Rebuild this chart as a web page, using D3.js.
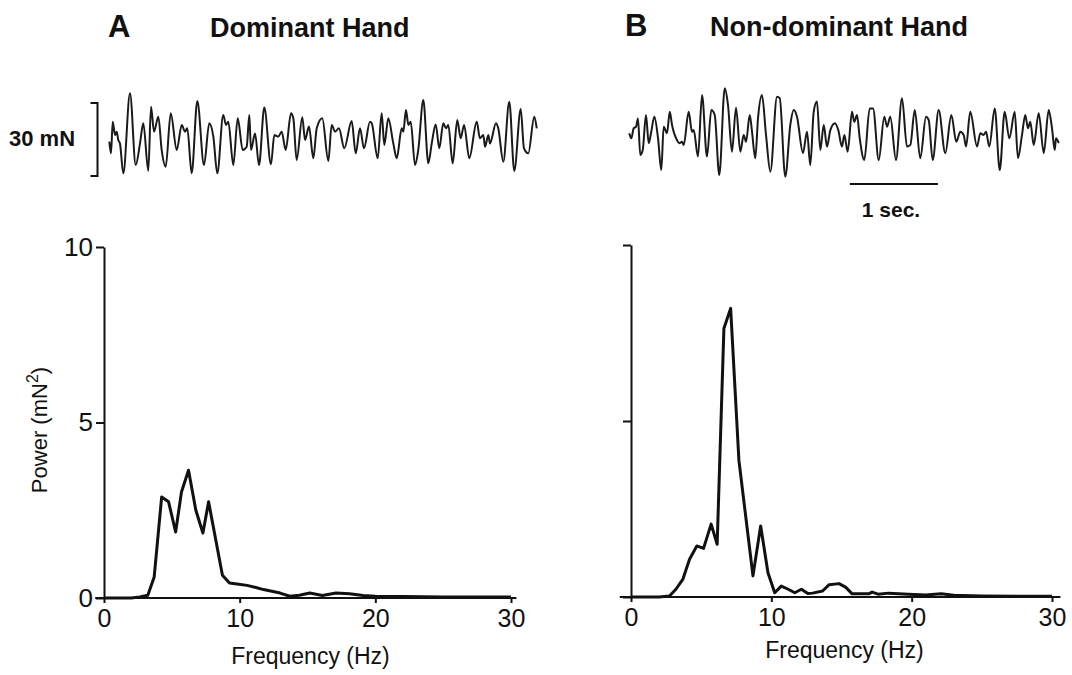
<!DOCTYPE html>
<html>
<head>
<meta charset="utf-8">
<script src="https://cdn.jsdelivr.net/npm/d3@7"></script>
<style>
  body { margin: 0; background: #fff; }
  text { font-family: "Liberation Sans", Arial, Helvetica, sans-serif; fill: #111; }
</style>
</head>
<body>
<svg width="1072" height="675"></svg>
<script>
// force traces: [time (s), force (mN)]
const traceA = [[0.049,-0.9],[0.068,-5.7],[0.088,7.3],[0.114,1.8],[0.133,3.2],[0.151,-0.2],[0.170,-1.6],[0.208,-13.9],
  [0.284,19.0],[0.349,-10.5],[0.398,-1.6],[0.435,6.7],[0.492,-12.9],[0.523,13.5],[0.557,3.2],[0.606,9.4],[0.644,-4.3],
  [0.690,-11.2],[0.747,10.8],[0.815,-4.3],[0.872,6.0],[0.909,3.2],[0.935,4.6],[0.985,-13.9],[1.049,15.8],[1.125,-10.5],
  [1.185,6.7],[1.231,1.2],[1.276,-13.9],[1.344,10.1],[1.375,6.0],[1.401,7.3],[1.458,-10.5],[1.508,8.7],[1.565,-4.3],
  [1.610,-3.0],[1.640,10.1],[1.659,-4.3],[1.705,2.5],[1.750,-10.5],[1.810,13.1],[1.886,-10.2],[1.924,1.8],[1.969,1.2],
  [2.008,3.2],[2.053,-4.3],[2.114,10.8],[2.140,8.7],[2.178,-8.4],[2.242,9.1],[2.273,-0.2],[2.318,5.3],[2.367,-7.7],
  [2.406,4.6],[2.469,8.7],[2.538,-8.8],[2.576,6.0],[2.614,3.2],[2.659,4.6],[2.719,-3.6],[2.803,7.6],[2.849,-5.7],
  [2.898,4.6],[2.943,-3.6],[3.011,7.3],[3.031,6.7],[3.099,-7.7],[3.144,10.8],[3.174,-2.3],[3.219,8.7],[3.276,-1.6],
  [3.315,-7.7],[3.372,4.6],[3.390,3.2],[3.420,12.1],[3.447,6.0],[3.474,7.3],[3.523,-10.5],[3.560,-4.3],[3.617,16.2],
  [3.674,-9.8],[3.713,-1.6],[3.758,6.2],[3.799,-3.6],[3.844,6.7],[3.875,4.6],[3.901,6.0],[3.951,-9.8],[4.003,8.0],
  [4.042,0.5],[4.080,6.0],[4.140,-7.7],[4.224,7.3],[4.261,0.5],[4.299,1.8],[4.318,-3.0],[4.356,1.8],[4.375,-1.6],
  [4.443,6.7],[4.469,4.6],[4.526,-9.1],[4.594,15.5],[4.651,-12.9],[4.724,12.5],[4.761,-3.6],[4.810,-5.7],[4.878,9.4],
  [4.906,4.6]];

const traceB = [[0.003,-0.3],[0.026,-2.4],[0.053,1.7],[0.080,2.4],[0.102,5.8],[0.128,-9.2],[0.156,-7.2],[0.193,7.2],
  [0.224,-4.4],[0.253,0.3],[0.288,6.5],[0.330,-2.4],[0.367,-15.4],[0.394,2.4],[0.432,-0.3],[0.463,8.5],[0.489,3.1],
  [0.545,-3.1],[0.572,-4.4],[0.602,-3.8],[0.622,-5.1],[0.678,8.5],[0.716,0.3],[0.735,1.0],[0.784,-9.9],[0.830,15.4],
  [0.886,-9.9],[0.935,9.2],[0.974,7.2],[1.026,-17.5],[1.088,18.2],[1.125,11.3],[1.170,-7.9],[1.216,10.2],[1.265,-7.9],
  [1.303,-1.0],[1.330,-3.8],[1.372,7.2],[1.398,0.3],[1.435,-10.6],[1.466,5.8],[1.511,15.4],[1.557,-1.0],[1.606,-16.1],
  [1.682,14.7],[1.713,14.1],[1.776,-18.2],[1.833,3.1],[1.872,9.2],[1.909,6.5],[1.977,-8.5],[2.023,0.3],[2.060,-13.4],
  [2.099,8.5],[2.136,12.7],[2.174,-7.2],[2.213,3.1],[2.250,-5.8],[2.288,1.0],[2.341,3.8],[2.378,1.0],[2.420,-5.8],
  [2.447,-1.0],[2.485,-7.9],[2.534,8.5],[2.560,4.4],[2.591,7.2],[2.622,-2.4],[2.674,-11.3],[2.735,9.9],[2.773,9.9],
  [2.838,-11.3],[2.901,6.5],[2.932,2.4],[2.969,6.5],[3.034,-11.3],[3.102,14.1],[3.159,-5.8],[3.197,-5.1],[3.247,9.2],
  [3.310,-10.6],[3.375,6.5],[3.406,5.1],[3.451,-11.3],[3.519,9.2],[3.594,-8.5],[3.663,7.2],[3.719,-3.8],[3.765,0.3],
  [3.803,-1.0],[3.830,-5.8],[3.878,8.5],[3.955,-5.8],[3.992,-0.3],[4.031,-1.0],[4.057,0.3],[4.094,-5.8],[4.156,9.9],
  [4.213,-15.4],[4.269,8.5],[4.322,-2.4],[4.383,8.5],[4.420,-10.6],[4.466,-1.0],[4.503,7.2],[4.534,1.7],[4.560,4.4],
  [4.599,-5.1],[4.656,7.9],[4.713,-8.5],[4.769,9.2],[4.807,1.7],[4.838,-7.2],[4.852,-2.4],[4.883,-4.4]];

// power spectra: [frequency (Hz), power (mN^2)]
const spectrumA = [[0,0],[1,0],[2,0],[2.64,0.03],[3.23,0.08],[3.70,0.6],[4.25,2.88],[4.76,2.74],[5.28,1.88],
  [5.71,3.02],[6.23,3.64],[6.77,2.50],[7.29,1.85],[7.71,2.74],[8.73,0.65],[9.25,0.43],[9.8,0.40],[10.54,0.36],
  [11.2,0.30],[11.76,0.24],[12.98,0.14],[13.7,0.05],[14.4,0.08],[15.17,0.14],[16.1,0.07],[17.1,0.14],[18.1,0.12],
  [19.1,0.07],[20,0.05],[22,0.04],[25,0.03],[28,0.03],[30,0.03]];

const spectrumB = [[0,0],[1,0],[2,0],[2.74,0.03],[3.2,0.22],[3.69,0.50],[4.17,1.07],[4.69,1.45],[5.17,1.38],
  [5.71,2.07],[6.14,1.50],[6.62,7.63],[7.10,8.20],[7.69,3.88],[8.69,0.60],[9.24,2.02],[9.76,0.69],[10.24,0.12],
  [10.71,0.31],[11.2,0.22],[11.67,0.12],[12.14,0.22],[12.6,0.10],[12.94,0.11],[13.65,0.17],[14.12,0.35],[14.82,0.38],
  [15.29,0.28],[15.76,0.09],[16.94,0.09],[17.18,0.14],[17.6,0.08],[18.35,0.11],[19.76,0.08],[21,0.06],[22.1,0.09],
  [23,0.05],[25,0.03],[28,0.02],[30,0.02]];

const freqTicks = [0, 10, 20, 30];
const powerTicks = [0, 5, 10];
const forceCal = 30;   // mN
const timeCal = 1;     // s

let svg = d3.select("svg");

// panel layout
let panels = [
  { letter: "A", title: "Dominant Hand", trace: traceA, spec: spectrumA,
    letterX: 108, titleX: 210, titleY: 37,
    tx: [105, 545], ty: [176, 103],
    sx: [104, 511], sy: [598, 247], xExt: [-0.65, 30.4], labels: true, xlabY: 664 },
  { letter: "B", title: "Non-dominant Hand", trace: traceB, spec: spectrumB,
    letterX: 625, titleX: 710, titleY: 36,
    tx: [629, 1069], ty: [169, 96],
    sx: [631, 1052], sy: [597, 245], xExt: [-0.8, 30.6], labels: false, xlabY: 658 }
];

panels.forEach(function (p, i) {
  let g = svg.append("g");

  g.append("text").attr("x", p.letterX).attr("y", p.titleY)
    .style("font-size", "31px").style("font-weight", "bold").text(p.letter);
  g.append("text").attr("x", p.titleX).attr("y", p.titleY)
    .style("font-size", "27px").style("font-weight", "bold").text(p.title);

  // force trace
  let xt = d3.scaleLinear().domain([0, 5]).range(p.tx);
  let yt = d3.scaleLinear().domain([-15, 15]).range(p.ty);
  let traceLine = d3.line()
    .curve(d3.curveMonotoneX)
    .x(function (d) { return xt(d[0]); })
    .y(function (d) { return yt(d[1]); });
  g.append("path").datum(p.trace)
    .attr("d", traceLine)
    .attr("fill", "none").attr("stroke", "#1a1a1a")
    .attr("stroke-width", 2).attr("stroke-linejoin", "round");

  if (i === 0) {
    // 30 mN calibration bracket
    let bx = 97.5;
    g.append("path")
      .attr("d", "M" + (bx - 7) + "," + yt(15) + "H" + bx + "V" + yt(15 - forceCal) + "H" + (bx - 7))
      .attr("fill", "none").attr("stroke", "#111").attr("stroke-width", 2);
    g.append("text").attr("x", 9).attr("y", 146)
      .style("font-size", "22px").style("font-weight", "bold").text(forceCal + " mN");
  } else {
    // 1 sec scale bar
    let t0 = 2.51;
    g.append("line")
      .attr("x1", xt(t0)).attr("x2", xt(t0 + timeCal))
      .attr("y1", 184).attr("y2", 184)
      .attr("stroke", "#111").attr("stroke-width", 2);
    g.append("text").attr("x", 891).attr("y", 217).attr("text-anchor", "middle")
      .style("font-size", "21px").style("font-weight", "bold").text(timeCal + " sec.");
  }

  // spectrum
  let x = d3.scaleLinear().domain([0, 30]).range(p.sx);
  let y = d3.scaleLinear().domain([0, 10]).range(p.sy);

  let yAxis = d3.axisLeft(y).tickValues(powerTicks).tickSize(8).tickPadding(3).tickSizeOuter(0);
  if (!p.labels) yAxis.tickFormat("");
  let gy = g.append("g").attr("transform", "translate(" + p.sx[0] + ",0)").call(yAxis);

  let xAxis = d3.axisBottom(x).tickValues(freqTicks).tickSize(5).tickPadding(6).tickSizeOuter(0);
  let gx = g.append("g").attr("transform", "translate(0," + p.sy[0] + ")").call(xAxis);
  gx.select(".domain").remove();
  gx.append("line")
    .attr("x1", x(p.xExt[0])).attr("x2", x(p.xExt[1]))
    .attr("stroke", "#111").attr("stroke-width", 2);

  [gx, gy].forEach(function (a) {
    a.selectAll("path, line").attr("stroke", "#111").attr("stroke-width", 2);
    a.selectAll("text").attr("fill", "#111")
      .style("font-family", '"Liberation Sans", Arial, sans-serif');
  });
  gy.selectAll("text").style("font-size", "26px");
  gx.selectAll("text").style("font-size", "25px");

  let specLine = d3.line()
    .x(function (d) { return x(d[0]); })
    .y(function (d) { return y(d[1]); });
  g.append("path").datum(p.spec)
    .attr("d", specLine)
    .attr("fill", "none").attr("stroke", "#111")
    .attr("stroke-width", 3).attr("stroke-linejoin", "round");

  g.append("text").attr("x", (p.sx[0] + p.sx[1]) / 2 + 3).attr("y", p.xlabY)
    .attr("text-anchor", "middle").style("font-size", "23px").text("Frequency (Hz)");

  if (p.labels) {
    let yl = g.append("text")
      .attr("transform", "translate(47,430) rotate(-90)")
      .attr("text-anchor", "middle").style("font-size", "22px");
    yl.append("tspan").text("Power (mN");
    yl.append("tspan").attr("dy", "-9").style("font-size", "16px").text("2");
    yl.append("tspan").attr("dy", "9").text(")");
  }
});
</script>
</body>
</html>
